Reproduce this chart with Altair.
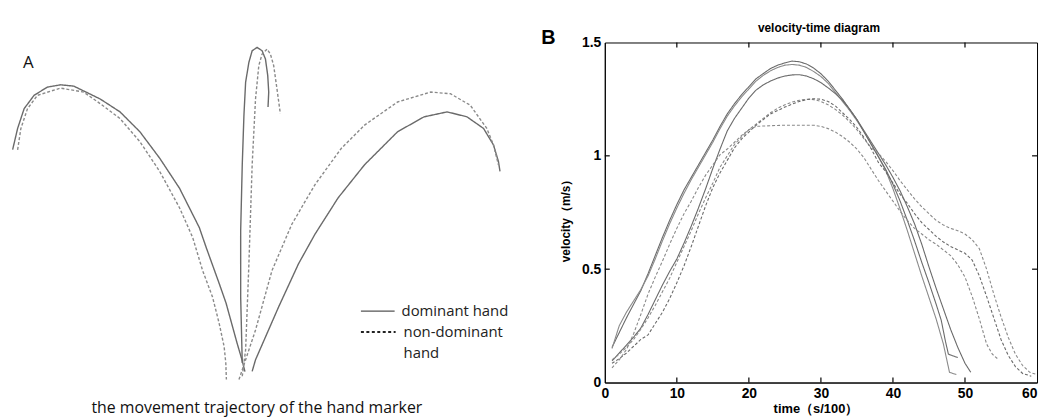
import altair as alt
import pandas as pd

# ---------------- Panel A: hand-marker trajectories (picture coordinates) ----------------
a_left_solid_x = [11.7, 16.7, 23.3, 33.3, 46.7, 60, 73.3, 100, 120, 140, 160, 180, 200, 207, 220, 227, 238, 243, 246]
a_left_solid_y = [148, 126.7, 106.7, 93.3, 85, 82.7, 84, 97, 110, 130, 156.7, 187, 226.7, 247, 283, 303, 343, 360, 372]
a_left_dash_x = [16.7, 20, 26.7, 36.7, 60, 83.3, 100, 120, 140, 160, 180, 193.3, 203.3, 213.3, 220, 225, 226.7, 227.3]
a_left_dash_y = [148.3, 126.7, 106.7, 93.3, 86, 90, 101.7, 116.7, 140, 170, 206.7, 236.7, 270, 296.7, 323.3, 346.7, 363.3, 380]
a_mid_solid_x = [243.3, 241.7, 241.7, 243.3, 245, 246.7, 250, 253.3, 258.3, 263.3, 266.7, 269, 270, 269.3]
a_mid_solid_y = [363.3, 296.7, 230, 163.3, 113.3, 80, 60, 48.3, 45, 48.3, 56.7, 73.3, 90, 105]
a_mid_dash_x = [243.3, 246.7, 250, 253.3, 256.7, 260, 263.3, 268.3, 271.7, 275, 278.3, 281.7]
a_mid_dash_y = [376.7, 350, 263.3, 163.3, 96.7, 63.3, 51.7, 46.7, 51.7, 63.3, 86.7, 111.7]
a_right_solid_x = [253.3, 256.7, 280, 300, 316.7, 340, 366.7, 400, 426.7, 450, 470, 486.7, 496.7, 501.7, 503.3]
a_right_solid_y = [371.7, 360, 306.7, 263.3, 233.3, 196.7, 163.3, 130, 115, 110, 115, 126.7, 143.3, 160, 170]
a_right_dash_x = [240, 246.7, 256.7, 273.3, 293.3, 316.7, 343.3, 366.7, 400, 433.3, 453.3, 473.3, 490, 496.7, 501.7]
a_right_dash_y = [380, 360, 330, 270, 223.3, 183.3, 146.7, 123.3, 100, 90, 91.7, 103.3, 126.7, 143.3, 163.3]

a_curves = [
    ("left-dominant", "dominant", a_left_solid_x, a_left_solid_y),
    ("left-non", "non-dominant", a_left_dash_x, a_left_dash_y),
    ("mid-dominant", "dominant", a_mid_solid_x, a_mid_solid_y),
    ("mid-non", "non-dominant", a_mid_dash_x, a_mid_dash_y),
    ("right-dominant", "dominant", a_right_solid_x, a_right_solid_y),
    ("right-non", "non-dominant", a_right_dash_x, a_right_dash_y),
]

# ---------------- Panel B: velocity-time curves ----------------
s1_t = [1, 2, 3, 4, 5, 6, 7, 8, 9, 10, 11, 12, 13, 14, 15, 16, 17, 18, 19, 20, 21, 22, 23, 24, 25, 26, 27, 28, 29, 30,
        31, 32, 33, 34, 35, 36, 37, 38, 39, 40, 41, 42, 43, 44, 45, 46, 47, 48, 49, 50, 50.8]
s1_v = [0.155, 0.22, 0.285, 0.345, 0.405, 0.48, 0.56, 0.64, 0.715, 0.785, 0.85, 0.905, 0.96, 1.015, 1.07, 1.13, 1.185,
        1.23, 1.27, 1.305, 1.34, 1.363, 1.385, 1.40, 1.41, 1.418, 1.415, 1.405, 1.387, 1.362, 1.33, 1.29, 1.25, 1.205,
        1.16, 1.11, 1.06, 1.01, 0.96, 0.905, 0.845, 0.775, 0.70, 0.61, 0.51, 0.415, 0.325, 0.235, 0.155, 0.085, 0.045]
s2_t = [1, 2, 3, 4, 5, 6, 7, 8, 9, 10, 11, 12, 13, 14, 15, 16, 17, 18, 19, 20, 21, 22, 23, 24, 25, 26, 27, 28, 29, 30,
        31, 32, 33, 34, 35, 36, 37, 38, 39, 40, 41, 42, 43, 44, 45, 46, 47, 47.85, 48.8]
s2_v = [0.15, 0.25, 0.31, 0.36, 0.41, 0.47, 0.545, 0.625, 0.70, 0.77, 0.835, 0.895, 0.95, 1.005, 1.06, 1.12, 1.175,
        1.22, 1.26, 1.295, 1.33, 1.355, 1.375, 1.39, 1.40, 1.403, 1.40, 1.39, 1.372, 1.35, 1.32, 1.28, 1.24, 1.20,
        1.155, 1.105, 1.05, 0.995, 0.935, 0.855, 0.765, 0.67, 0.57, 0.47, 0.375, 0.28, 0.17, 0.045, 0.035]
s3_t = [1, 2, 3, 4, 5, 6, 7, 8, 9, 10, 11, 12, 13, 14, 15, 16, 17, 18, 19, 20, 21, 22, 23, 24, 25, 26, 27, 28, 29, 30,
        31, 32, 33, 34, 35, 36, 37, 38, 39, 40, 41, 42, 43, 44, 45, 46, 46.7, 47.3, 47.7, 49]
s3_v = [0.095, 0.13, 0.165, 0.20, 0.24, 0.30, 0.365, 0.43, 0.49, 0.545, 0.615, 0.69, 0.77, 0.855, 0.945, 1.03, 1.11,
        1.165, 1.21, 1.255, 1.29, 1.313, 1.33, 1.343, 1.352, 1.357, 1.358, 1.352, 1.34, 1.323, 1.30, 1.275, 1.245,
        1.205, 1.16, 1.105, 1.05, 0.995, 0.94, 0.875, 0.80, 0.715, 0.625, 0.53, 0.44, 0.345, 0.275, 0.18, 0.125, 0.11]
d1_t = [1, 2, 3, 4, 5, 6, 7, 8, 9, 10, 11, 12, 13, 14, 15, 16, 17, 18, 19, 20, 21, 22, 23, 24, 25, 26, 27, 28, 29, 30,
        31, 32, 33, 34, 35, 36, 37, 38, 39, 40, 41, 42, 43, 44, 45, 46, 47, 48, 49, 50, 51, 52, 53, 54, 55, 56, 57, 58,
        59, 60]
d1_v = [0.10, 0.125, 0.155, 0.19, 0.235, 0.285, 0.34, 0.40, 0.46, 0.53, 0.60, 0.67, 0.745, 0.815, 0.88, 0.95, 1.0,
        1.05, 1.085, 1.115, 1.14, 1.165, 1.19, 1.21, 1.225, 1.237, 1.245, 1.25, 1.248, 1.24, 1.225, 1.205, 1.18, 1.15,
        1.115, 1.075, 1.035, 1.01, 0.975, 0.935, 0.89, 0.85, 0.81, 0.775, 0.745, 0.715, 0.695, 0.68, 0.67, 0.655, 0.63,
        0.59, 0.50, 0.39, 0.29, 0.20, 0.125, 0.075, 0.045, 0.035]
d2_t = [1, 2, 3, 4, 5, 6, 7, 8, 9, 10, 11, 12, 13, 14, 15, 16, 17, 18, 19, 20, 21, 22, 23, 24, 25, 26, 27, 28, 29, 30,
        31, 32, 33, 34, 35, 36, 37, 38, 39, 40, 41, 42, 43, 44, 45, 46, 47, 48, 49, 50, 51, 52, 53, 54, 55, 56, 57, 58,
        59.2]
d2_v = [0.085, 0.105, 0.13, 0.16, 0.19, 0.21, 0.26, 0.31, 0.37, 0.44, 0.515, 0.60, 0.69, 0.78, 0.86, 0.925, 0.98,
        1.035, 1.075, 1.105, 1.135, 1.16, 1.185, 1.20, 1.215, 1.228, 1.24, 1.248, 1.252, 1.25, 1.24, 1.22, 1.19, 1.16,
        1.125, 1.08, 1.03, 0.97, 0.93, 0.88, 0.83, 0.79, 0.745, 0.705, 0.675, 0.645, 0.62, 0.60, 0.585, 0.57, 0.54,
        0.47, 0.38, 0.285, 0.19, 0.12, 0.07, 0.04, 0.028]
d3_t = [1, 2, 3, 4, 5, 6, 7, 8, 9, 10, 11, 12, 13, 14, 15, 16, 17, 18, 19, 20, 21, 23, 25, 27, 29, 30, 31, 32, 33, 34,
        35, 36, 37, 38, 39, 40, 41, 42, 43, 44, 45, 46, 47, 48, 49, 50, 51, 52, 53, 53.8, 54.7]
d3_v = [0.065, 0.10, 0.145, 0.215, 0.30, 0.39, 0.465, 0.535, 0.61, 0.68, 0.745, 0.80, 0.86, 0.915, 0.96, 1.005, 1.03,
        1.06, 1.09, 1.115, 1.13, 1.133, 1.135, 1.135, 1.135, 1.13, 1.12, 1.105, 1.085, 1.06, 1.03, 0.99, 0.94, 0.89,
        0.845, 0.80, 0.755, 0.715, 0.68, 0.655, 0.63, 0.61, 0.585, 0.56, 0.52, 0.465, 0.38, 0.28, 0.17, 0.125, 0.10]

b_curves = [
    ("S1", "dominant", s1_t, s1_v),
    ("S2", "dominant", s2_t, s2_v),
    ("S3", "dominant", s3_t, s3_v),
    ("D1", "non-dominant", d1_t, d1_v),
    ("D2", "non-dominant", d2_t, d2_v),
    ("D3", "non-dominant", d3_t, d3_v),
]
b_colors = ["#111111", "#3a3a3a", "#6a6a6a", "#7a7a7a", "#8c8c8c", "#1a1a1a"]

x_ticks = [0, 10, 20, 30, 40, 50, 60]
x_inner_ticks = [10, 20, 30, 40, 50]
y_ticks = [0, 0.5, 1, 1.5]
y_inner_ticks = [0.5, 1]

legend_labels = ["dominant hand", "non-dominant", "hand"]
caption = "the movement trajectory of  the hand marker"
title_b = "velocity-time diagram"
x_title = "time\uff08s/100\uff09"
y_title = "velocity\uff08m/s\uff09"

# ---------------- build tables ----------------
rows_a = []
for name, hand, xs_, ys_ in a_curves:
    for i, (xv, yv) in enumerate(zip(xs_, ys_)):
        rows_a.append({"curve": name, "hand": hand, "i": i, "x": xv, "y": yv})
df_a = pd.DataFrame(rows_a)

rows_b = []
for name, hand, ts, vs in b_curves:
    for i, (tv, vv) in enumerate(zip(ts, vs)):
        rows_b.append({"curve": name, "hand": hand, "i": i, "t": tv, "v": vv})
df_b = pd.DataFrame(rows_b)

dummy = pd.DataFrame({"k": [0]})

TXT = "Open Sans"
BFONT = "Liberation Sans Narrow, Liberation Sans, Arial, sans-serif"

# ---------------- Panel A chart ----------------
W_A, H_A = 520, 343
ax_scale = alt.Scale(domain=[8, 528], nice=False, zero=False)
ay_scale = alt.Scale(domain=[40, 383], nice=False, zero=False, reverse=True)

a_lines = alt.Chart(df_a).mark_line(strokeWidth=1.4, clip=False).encode(
    x=alt.X("x:Q", scale=ax_scale, axis=None),
    y=alt.Y("y:Q", scale=ay_scale, axis=None),
    color=alt.Color("hand:N", scale=alt.Scale(domain=["dominant", "non-dominant"], range=["#6a6a6a", "#8a8a8a"]), legend=None),
    strokeDash=alt.StrokeDash("hand:N", scale=alt.Scale(domain=["dominant", "non-dominant"], range=[[1, 0], [3, 2]]), legend=None),
    detail="curve:N",
    order="i:Q",
)

leg_solid = alt.Chart(dummy).mark_rule(color="#555555", strokeWidth=1.3).encode(
    x=alt.value(355), x2=alt.value(389), y=alt.value(271))
leg_dash = alt.Chart(dummy).mark_rule(color="#222222", strokeWidth=2.2, strokeDash=[3, 2.5]).encode(
    x=alt.value(355), x2=alt.value(390), y=alt.value(292))
leg_t1 = alt.Chart(dummy).mark_text(text=legend_labels[0], font=TXT, fontSize=15, color="#222222", align="left", baseline="middle").encode(
    x=alt.value(396), y=alt.value(271))
leg_t2 = alt.Chart(dummy).mark_text(text=legend_labels[1], font=TXT, fontSize=15, color="#222222", align="left", baseline="middle").encode(
    x=alt.value(398), y=alt.value(292))
leg_t3 = alt.Chart(dummy).mark_text(text=legend_labels[2], font=TXT, fontSize=15, color="#222222", align="left", baseline="middle").encode(
    x=alt.value(398), y=alt.value(313))
label_a = alt.Chart(dummy).mark_text(text="A", font=TXT, fontSize=17, color="#111111", align="center", baseline="middle").encode(
    x=alt.value(19.5), y=alt.value(21))
cap_a = alt.Chart(dummy).mark_text(text=caption, font=TXT, fontSize=16, color="#111111", align="center", baseline="middle").encode(
    x=alt.value(250), y=alt.value(369))

panel_a = alt.layer(a_lines, leg_solid, leg_dash, leg_t1, leg_t2, leg_t3, label_a, cap_a).properties(
    width=W_A, height=H_A, view=alt.ViewBackground(stroke="transparent"))

# ---------------- Panel B chart ----------------
W_B, H_B = 436, 343
bx_scale = alt.Scale(domain=[0, 60], nice=False, zero=False)
by_scale = alt.Scale(domain=[0, 1.5], nice=False, zero=False)

axis_common = dict(title=None, ticks=False, tickSize=0, grid=False, domainColor="black", domainWidth=1,
                   labelFont=BFONT, labelFontSize=14, labelFontWeight="bold", labelColor="black",
                   labelOverlap=False, labelPadding=4)
x_axis = alt.Axis(values=x_ticks, format="d",
                  labelAlign={"condition": {"test": "datum.value >= 60", "value": "right"}, "value": "center"},
                  **axis_common)
y_axis = alt.Axis(values=y_ticks, format="~g", **axis_common)

b_lines = alt.Chart(df_b).mark_line(strokeWidth=1.1, clip=False).encode(
    x=alt.X("t:Q", scale=bx_scale, axis=x_axis),
    y=alt.Y("v:Q", scale=by_scale, axis=y_axis),
    color=alt.Color("curve:N", scale=alt.Scale(domain=[c[0] for c in b_curves], range=b_colors), legend=None),
    strokeDash=alt.StrokeDash("hand:N", scale=alt.Scale(domain=["dominant", "non-dominant"], range=[[1, 0], [3, 2]]), legend=None),
    detail="curve:N",
    order="i:Q",
)

df_xt = pd.DataFrame({"t": x_inner_ticks})
df_yt = pd.DataFrame({"v": y_inner_ticks})
tick_bottom = alt.Chart(df_xt).mark_rule(color="black", strokeWidth=1.2).encode(
    x=alt.X("t:Q", scale=bx_scale, axis=x_axis), y=alt.value(H_B), y2=alt.value(H_B - 5))
tick_top = alt.Chart(df_xt).mark_rule(color="black", strokeWidth=1.2).encode(
    x=alt.X("t:Q", scale=bx_scale, axis=x_axis), y=alt.value(0), y2=alt.value(5))
tick_left = alt.Chart(df_yt).mark_rule(color="black", strokeWidth=1.2).encode(
    y=alt.Y("v:Q", scale=by_scale, axis=y_axis), x=alt.value(0), x2=alt.value(5))
tick_right = alt.Chart(df_yt).mark_rule(color="black", strokeWidth=1.2).encode(
    y=alt.Y("v:Q", scale=by_scale, axis=y_axis), x=alt.value(W_B), x2=alt.value(W_B - 5))

t_title = alt.Chart(dummy).mark_text(text=title_b, font=BFONT, fontSize=12, fontWeight="bold", color="black",
                                     align="center", baseline="middle").encode(x=alt.value(216), y=alt.value(-15))
t_b = alt.Chart(dummy).mark_text(text="B", font="Liberation Sans, Arial, sans-serif", fontSize=20, fontWeight="bold",
                                 color="black", align="center", baseline="middle").encode(x=alt.value(-57), y=alt.value(-4))
t_x = alt.Chart(dummy).mark_text(text=x_title, font=BFONT, fontSize=13, fontWeight="bold", color="black",
                                 align="center", baseline="middle").encode(x=alt.value(213), y=alt.value(370))
t_y = alt.Chart(dummy).mark_text(text=y_title, font=BFONT, fontSize=12, fontWeight="bold", color="black",
                                 align="center", baseline="middle", angle=270).encode(x=alt.value(-39), y=alt.value(177))

panel_b = alt.layer(b_lines, tick_bottom, tick_top, tick_left, tick_right, t_title, t_b, t_x, t_y).properties(
    width=W_B, height=H_B, view=alt.ViewBackground(stroke="black", strokeWidth=1))

chart = alt.hconcat(panel_a, panel_b, spacing=81, bounds="flush").properties(
    padding={"top": 11, "left": 0, "right": 0, "bottom": 0}
).configure(background="white")

chart.save("out.html", embed_options={"renderer": "svg", "actions": False})
